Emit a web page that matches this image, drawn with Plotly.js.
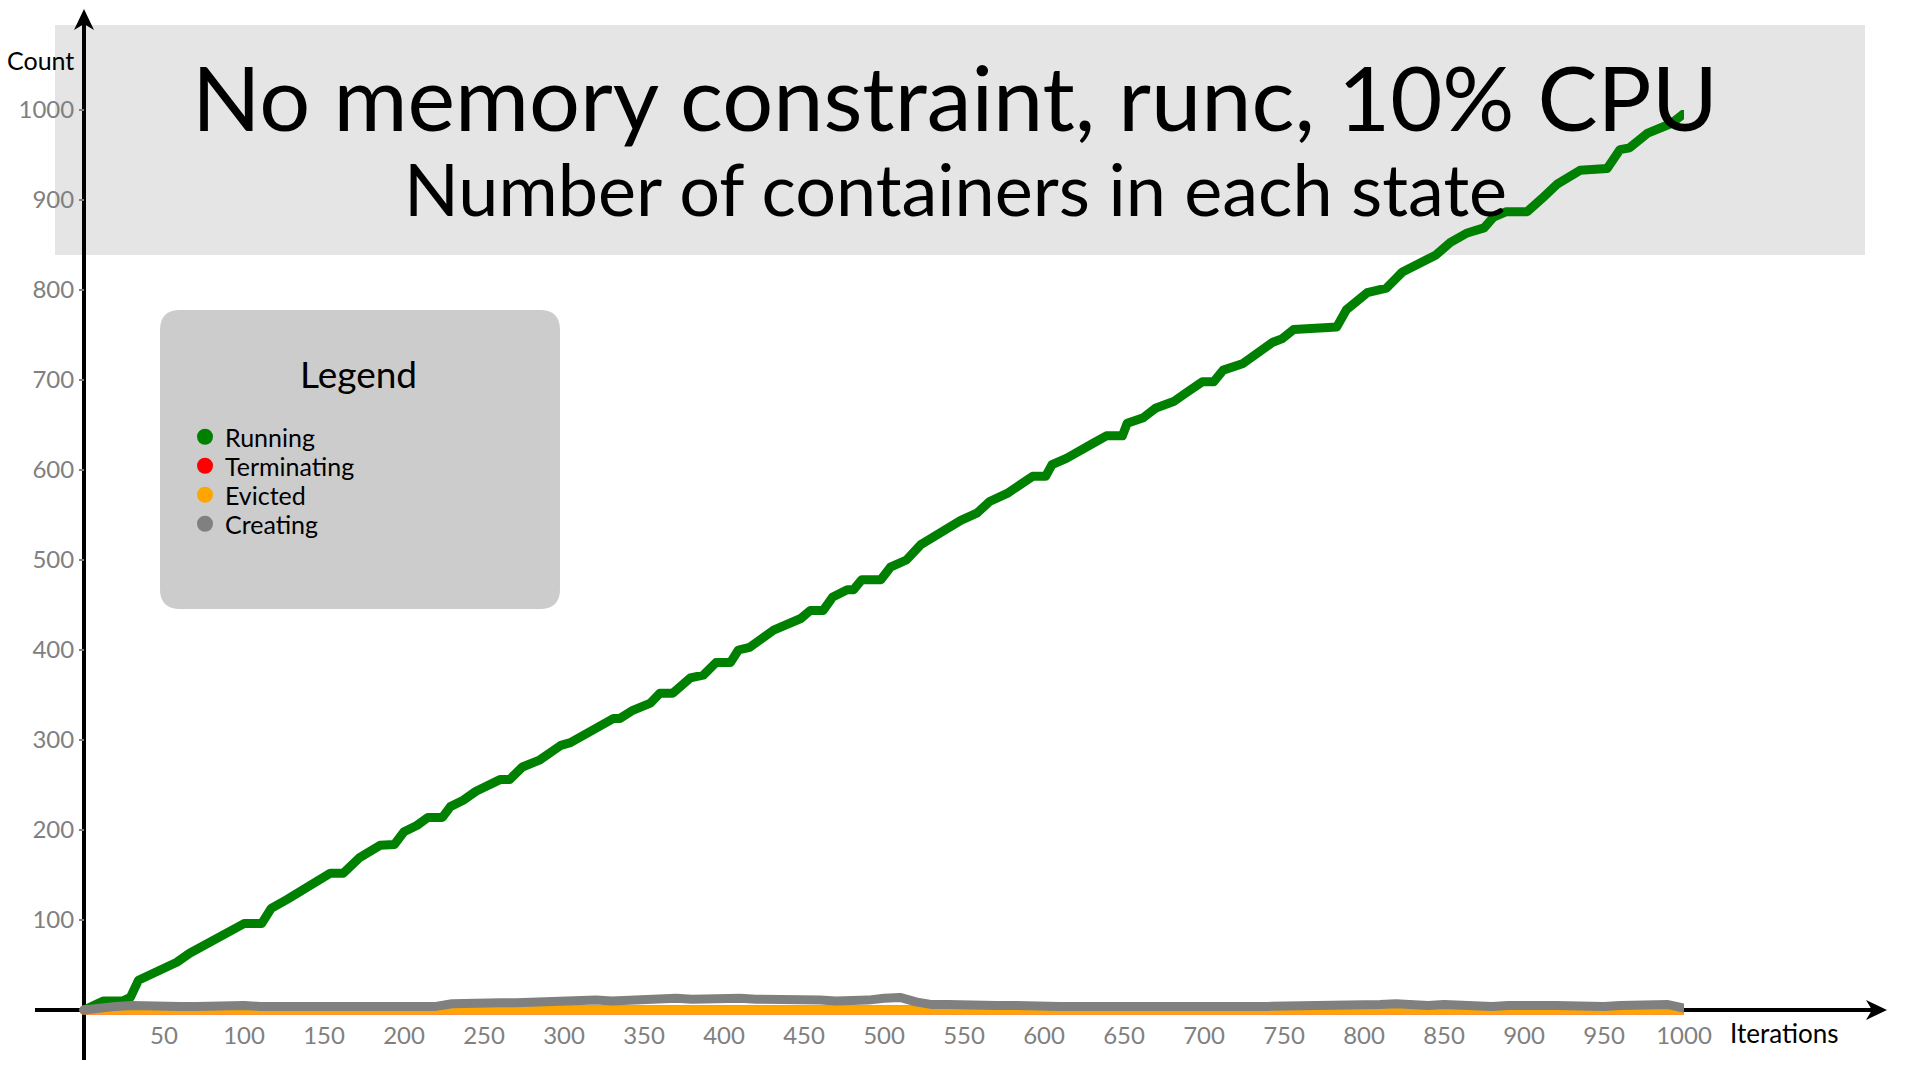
<!DOCTYPE html>
<html><head><meta charset="utf-8">
<script src="https://cdn.plot.ly/plotly-3.0.1.min.js"></script>
<style>
html,body{margin:0;padding:0;background:#fff;}
#chart{width:1920px;height:1080px;}
.scatterlayer .js-line{stroke-linecap:round !important;stroke-linejoin:round !important;}
</style>
</head><body><div id="chart"></div>
<script>
// ---- data ----
const seriesNames = ['Running', 'Terminating', 'Evicted', 'Creating'];
const seriesColors = ['#008000', '#ff0000', '#ffa500', '#808080'];

const runningIter = [0,5,12,24,29,34,45,58,66,77,87,100,111,117,127,139,154,162,172,185,194,200,208,215,224,229,237,245,252,260,266,274,285,298,304,314,331,335,343,354,360,368,379,387,395,404,409,416,424,431,448,454,462,468,477,481,486,498,504,514,523,531,541,548,558,566,577,587,593,601,605,614,622,631,639,649,652,662,670,681,689,699,706,712,724,731,743,749,756,783,789,802,814,824,835,845,854,864,875,881,889,902,912,921,935,952,960,966,977,985,992,1000];
const runningCount = [0,5,10,10,14,33,42,53,63,74,83,96,96,113,123,136,152,152,169,183,184,198,205,214,214,226,233,243,248,256,256,270,278,294,297,306,324,324,333,341,352,352,369,372,386,386,400,403,413,422,435,444,444,459,467,467,478,478,492,500,517,526,535,544,552,565,574,585,593,593,606,613,622,630,638,638,652,658,669,676,686,698,698,711,718,728,742,746,756,759,778,797,802,820,830,839,853,863,869,881,887,887,903,918,933,935,956,958,974,981,985,996];

// sampled every 10 iterations (0..1000)
const sampleIter = Array.from({length: 101}, (_, i) => i * 10);
const creatingCount = [0,3,4,5,4,5,4,4,5,4,
  5,4,4,5,4,4,5,4,4,5,
  4,5,4,7,8,7,8,8,9,9,
  10,10,11,10,11,12,13,13,12,13,
  14,13,12,12,13,12,11,10,10,11,
  13,14,9,6,6,5,5,5,5,4,
  4,4,4,5,4,4,5,4,4,3,
  4,4,5,4,4,4,5,4,4,4,
  4,6,7,5,5,6,5,4,4,5,
  4,5,5,4,4,4,5,5,6,6,
  2];
const evictedCount = [0,0,0,1,0,0,1,0,0,0,
  0,1,0,0,0,1,0,0,0,1,
  0,0,1,0,0,0,1,0,0,1,
  1,0,1,1,0,1,1,0,1,1,
  1,0,1,1,1,0,1,1,0,1,
  1,1,0,0,1,0,0,1,0,0,
  0,1,0,0,0,1,0,0,1,0,
  0,0,1,0,0,1,0,0,0,1,
  0,1,0,0,1,0,0,1,0,0,
  1,0,0,1,0,0,1,0,0,1,
  0];
const terminatingCount = [0,0,0,0,0,0,0,0,0,0,
  0,0,0,0,0,0,0,0,0,0,
  0,0,0,0,0,0,0,0,0,0,
  0,0,0,0,0,0,0,0,0,0,
  0,0,0,0,0,0,0,0,0,0,
  0,0,0,0,0,0,0,0,0,0,
  0,0,0,0,0,0,0,0,0,0,
  0,0,0,0,0,0,0,0,0,0,
  0,0,0,0,0,0,0,0,0,0,
  0,0,0,0,0,0,0,0,0,0,
  0];

const xTickVals = [50,100,150,200,250,300,350,400,450,500,550,600,650,700,750,800,850,900,950,1000];
const yTickVals = [100,200,300,400,500,600,700,800,900,1000];

const titleText = 'No memory constraint, runc, 10% CPU';
const subtitleText = 'Number of containers in each state';

// ---- layout helpers (pixel -> paper) ----
const FONT = 'Lato, "Noto Sans", sans-serif';
const L = 68, T = 110, W = 1616, H = 909;   // plot area in pixels
const px = x => (x - L) / W;
const py = y => (T + H - y) / H;

function roundRect(x0, y0, x1, y1, r) {
  const rx = r / W, ry = r / H;
  const a = px(x0), b = px(x1), top = py(y0), bot = py(y1);
  return `M ${a + rx} ${top} L ${b - rx} ${top} Q ${b} ${top} ${b} ${top - ry} ` +
         `L ${b} ${bot + ry} Q ${b} ${bot} ${b - rx} ${bot} ` +
         `L ${a + rx} ${bot} Q ${a} ${bot} ${a} ${bot + ry} ` +
         `L ${a} ${top - ry} Q ${a} ${top} ${a + rx} ${top} Z`;
}
function polyPath(pts) {
  return 'M ' + pts.map(p => `${px(p[0])} ${py(p[1])}`).join(' L ') + ' Z';
}

const seriesData = [
  {x: runningIter, y: runningCount},
  {x: sampleIter, y: terminatingCount},
  {x: sampleIter, y: evictedCount},
  {x: sampleIter, y: creatingCount}
];

const traces = [];
seriesData.forEach((d, i) => {
  traces.push({
    type: 'scatter', mode: 'lines', x: d.x, y: d.y,
    name: seriesNames[i], legendgroup: seriesNames[i], showlegend: false,
    line: {color: seriesColors[i], width: 9},
    hoverinfo: 'skip'
  });
});
seriesNames.forEach((n, i) => {
  traces.push({
    type: 'scatter', mode: 'markers', x: [null], y: [null],
    name: n, legendgroup: n, showlegend: true,
    marker: {color: seriesColors[i], size: 16}
  });
});

const axisShapes = [
  {type: 'line', xref: 'paper', yref: 'paper', x0: px(35), x1: px(1872), y0: py(1010), y1: py(1010),
   line: {color: '#000', width: 4}, layer: 'below'},
  {type: 'line', xref: 'paper', yref: 'paper', x0: px(84), x1: px(84), y0: py(1060), y1: py(24),
   line: {color: '#000', width: 4}, layer: 'below'},
  {type: 'path', xref: 'paper', yref: 'paper',
   path: polyPath([[1887, 1010], [1866, 1000], [1872, 1010], [1866, 1020]]),
   fillcolor: '#000', line: {width: 0}, layer: 'below'},
  {type: 'path', xref: 'paper', yref: 'paper',
   path: polyPath([[84, 9], [74, 30], [84, 24], [94, 30]]),
   fillcolor: '#000', line: {width: 0}, layer: 'below'}
];

const layout = {
  width: 1920, height: 1080,
  margin: {l: L, r: 1920 - L - W, t: T, b: 1080 - T - H, pad: 0},
  paper_bgcolor: '#ffffff', plot_bgcolor: 'rgba(0,0,0,0)',
  font: {family: FONT, color: '#000'},
  showlegend: true,
  legend: {
    x: px(185), y: py(414), xanchor: 'left', yanchor: 'top',
    bgcolor: 'rgba(0,0,0,0)', borderwidth: 0,
    font: {family: FONT, size: 25, color: '#000'},
    itemwidth: 30, tracegroupgap: 0, traceorder: 'normal'
  },
  xaxis: {
    range: [-10, 1000], tickvals: xTickVals, ticks: '', showgrid: false,
    zeroline: false, showline: false, fixedrange: true,
    anchor: 'free', position: py(1010), ticklabelstandoff: 9,
    tickfont: {family: FONT, size: 24, color: '#808080'}
  },
  yaxis: {
    range: [-10, 1000], tickvals: yTickVals, ticks: 'outside', ticklen: 5,
    tickwidth: 2, tickcolor: '#808080', showgrid: false,
    zeroline: false, showline: false, fixedrange: true,
    anchor: 'free', position: px(84),
    tickfont: {family: FONT, size: 24, color: '#808080'}
  },
  shapes: [
    {type: 'rect', xref: 'paper', yref: 'paper', x0: px(55), x1: px(1865), y0: py(255), y1: py(25),
     fillcolor: '#e5e5e5', line: {width: 0}, layer: 'below'},
    {type: 'path', xref: 'paper', yref: 'paper', path: roundRect(160, 310, 560, 609, 20),
     fillcolor: '#cccccc', line: {width: 0}, layer: 'below'}
  ].concat(axisShapes),
  annotations: [
    {xref: 'paper', yref: 'paper', x: px(955), y: py(96), xanchor: 'center', yanchor: 'middle',
     text: titleText, showarrow: false, font: {family: FONT, size: 90, color: '#000'}},
    {xref: 'paper', yref: 'paper', x: px(955), y: py(188), xanchor: 'center', yanchor: 'middle',
     text: subtitleText, showarrow: false, font: {family: FONT, size: 72, color: '#000'}},
    {xref: 'paper', yref: 'paper', x: px(40), y: py(60), xanchor: 'center', yanchor: 'middle',
     text: 'Count', showarrow: false, font: {family: FONT, size: 25, color: '#000'}},
    {xref: 'paper', yref: 'paper', x: px(1728), y: py(1033), xanchor: 'left', yanchor: 'middle',
     text: 'Iterations', showarrow: false, font: {family: FONT, size: 26, color: '#000'}},
    {xref: 'paper', yref: 'paper', x: px(358), y: py(373), xanchor: 'center', yanchor: 'middle',
     text: 'Legend', showarrow: false, font: {family: FONT, size: 37, color: '#000'}}
  ]
};

Plotly.newPlot('chart', traces, layout, {displayModeBar: false, staticPlot: true}).then(gd => {
  // tighten legend rows to the reference spacing
  const items = gd.querySelectorAll('.legend .traces');
  if (!items.length) return;
  const m = /translate\(\s*([-\d.]+)[ ,]+([-\d.]+)/.exec(items[0].getAttribute('transform') || '');
  if (!m) return;
  const x0 = parseFloat(m[1]), y0 = parseFloat(m[2]);
  items.forEach((g, i) => g.setAttribute('transform', `translate(${x0},${y0 + i * 29})`));
});
</script></body></html>
